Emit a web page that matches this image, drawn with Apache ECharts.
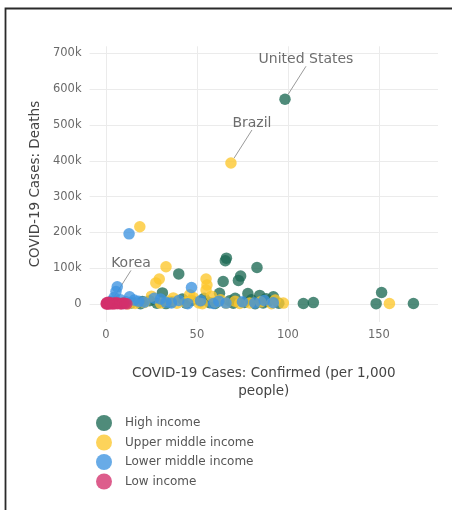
<!DOCTYPE html>
<html>
<head>
<meta charset="utf-8">
<script src="https://cdn.jsdelivr.net/npm/echarts@6/dist/echarts.min.js"></script>
<style>
html,body{margin:0;padding:0;background:#fff;}
#chart{width:452px;height:510px;}
</style>
</head>
<body>
<div id="chart"></div>
<script>
// ---- Data (x = confirmed cases per 1,000 people, y = deaths) ----
const seriesNames = ['High income', 'Upper middle income', 'Lower middle income', 'Low income'];
const seriesColors = ['#1d6a54', '#fcc62c', '#3d94e0', '#d4306c'];

const highIncome = [
  [98.4, 572000], [66.2, 128000], [65.6, 121000], [83.0, 102000], [40.0, 84000],
  [74.0, 78000], [72.8, 66000], [64.4, 63000], [31.0, 31000], [62.4, 30000],
  [78.0, 29000], [84.5, 24000], [92.0, 20000], [151.5, 32000], [148.5, 1000],
  [169.0, 1500], [108.5, 1500], [114.0, 4000], [57.0, 3500], [76.0, 4500],
  [86.4, 3000], [2.2, 1700], [14.0, 3000], [19.0, 1000], [24.0, 9000],
  [28.0, 2000], [36.0, 6000], [44.0, 2500], [47.0, 10000], [52.0, 7000],
  [60.0, 1500], [68.0, 9000], [70.0, 2000], [80.0, 12000], [82.0, 1000],
  [89.0, 8000], [95.0, 2000], [42.0, 14000], [54.0, 16000], [71.0, 16000],
  [88.0, 15000], [20.0, 7000], [33.0, 1200]
];
const upperMiddleIncome = [
  [68.7, 394000], [18.6, 216000], [33.0, 104000], [29.3, 70000], [27.4, 59000],
  [55.0, 70000], [55.5, 53000], [55.0, 39000], [155.8, 1500], [97.5, 2500],
  [71.0, 8000], [73.5, 1500], [51.0, 3000], [25.0, 22000], [35.0, 8000],
  [39.0, 2000], [44.0, 5000], [48.0, 18000], [58.0, 22000], [60.0, 5000],
  [63.0, 12000], [66.0, 2000], [79.0, 3000], [85.0, 6000], [91.0, 1000],
  [93.0, 11000], [16.0, 1500], [21.0, 4000], [30.0, 2500], [12.0, 500],
  [8.0, 2000], [37.0, 17000], [46.0, 26000], [53.0, 1000]
];
const lowerMiddleIncome = [
  [12.7, 196000], [6.2, 48000], [5.5, 35000], [47.0, 46000], [11.0, 6000],
  [15.5, 11000], [21.0, 5000], [26.5, 16000], [59.0, 1500], [81.8, 3000],
  [92.0, 3500], [4.5, 18000], [8.0, 12000], [3.0, 8000], [33.0, 5000],
  [40.0, 10000], [45.0, 1000], [66.0, 2500], [30.0, 14000], [2.0, 2500],
  [18.0, 8000], [52.0, 9000], [75.0, 6000], [36.0, 3000], [9.5, 1500],
  [13.0, 20000], [87.0, 10000], [62.0, 8000]
];
const lowIncome = [
  [0.1, 200], [0.3, 1500], [0.6, 600], [0.9, 2500], [1.2, 100], [1.6, 1200],
  [2.0, 3500], [2.4, 400], [2.9, 1800], [3.3, 800], [3.8, 2200], [4.3, 300],
  [4.9, 1500], [5.5, 4000], [6.2, 700], [7.0, 2000], [7.8, 1000], [8.6, 300],
  [9.5, 2500], [10.5, 1200], [11.5, 500], [1.4, 5000], [0.5, 4000]
];
// annotations: [series index, point index, label]
const annotations = [[0, 0, 'United States'], [1, 0, 'Brazil'], [0, 21, 'Korea']];

const xTicks = [0, 50, 100, 150];
const yTicks = [0, 100000, 200000, 300000, 400000, 500000, 600000, 700000];
const xTitle = 'COVID-19 Cases: Confirmed (per 1,000\npeople)';
const yTitle = 'COVID-19 Cases: Deaths';

// ---- Chart ----
const FONT = '"DejaVu Sans", Verdana, sans-serif';
const allData = [highIncome, upperMiddleIncome, lowerMiddleIncome, lowIncome];

const chart = echarts.init(document.getElementById('chart'), null, {renderer: 'canvas'});

const series = seriesNames.map((name, si) => {
  const data = allData[si].map((p, pi) => {
    const ann = annotations.find(a => a[0] === si && a[1] === pi);
    if (ann) {
      return {name: ann[2], value: p, label: {show: true}};
    }
    return {value: p};
  });
  return {
    type: 'scatter',
    name: name,
    data: data,
    symbolSize: 11.5,
    itemStyle: {color: seriesColors[si], opacity: 0.78},
    label: {
      show: false, position: 'inside', formatter: '{b}',
      color: '#444', fontSize: 14, fontFamily: FONT, textBorderWidth: 0
    },
    labelLayout: {dx: 21, dy: -40},
    labelLine: {show: true, lineStyle: {color: '#9a9a9a', width: 1}},
    emphasis: {disabled: true}
  };
});

chart.setOption({
  animation: false,
  backgroundColor: '#fff',
  textStyle: {fontFamily: FONT},
  graphic: [{
    type: 'rect', left: 3, top: 6, silent: true,
    shape: {width: 480, height: 540},
    style: {fill: 'none', stroke: '#2a2a2a', lineWidth: 1.8}
  }],
  grid: {left: 89.6, right: 14, top: 46.3, bottom: 188.1, containLabel: false},
  xAxis: {
    type: 'value', min: -9, max: 182.5,
    splitNumber: 4, minInterval: 50, maxInterval: 50,
    axisLine: {show: false}, axisTick: {show: false},
    splitLine: {show: true, showMinLine: false, showMaxLine: false, lineStyle: {color: '#ebebeb', width: 1}},
    axisLabel: {
      margin: 7, fontSize: 11.5, color: '#6a6a6a', fontFamily: FONT,
      formatter: v => (xTicks.indexOf(v) >= 0 ? String(v) : '')
    },
    name: xTitle, nameLocation: 'middle', nameGap: 43,
    nameTextStyle: {fontSize: 13.5, color: '#444', lineHeight: 18, fontFamily: FONT}
  },
  yAxis: {
    type: 'value', min: -50000, max: 720000,
    splitNumber: 7, minInterval: 100000, maxInterval: 100000,
    axisLine: {show: false}, axisTick: {show: false},
    splitLine: {show: true, showMinLine: false, showMaxLine: false, lineStyle: {color: '#ebebeb', width: 1}},
    axisLabel: {
      margin: 8, fontSize: 11.5, color: '#6a6a6a', fontFamily: FONT,
      formatter: v => (yTicks.indexOf(v) >= 0 ? (v === 0 ? '0' : (v / 1000) + 'k') : '')
    },
    name: yTitle, nameLocation: 'middle', nameGap: 38, nameRotate: 90,
    nameTextStyle: {fontSize: 13.5, color: '#444', fontFamily: FONT}
  },
  legend: {
    data: seriesNames,
    orient: 'vertical', left: 91, top: 410,
    itemWidth: 16, itemHeight: 16, itemGap: 3.5,
    icon: 'circle',
    itemStyle: {opacity: 0.78},
    textStyle: {fontSize: 12, color: '#555', fontFamily: FONT, padding: [0, 0, 0, 8]},
    selectedMode: false
  },
  tooltip: {show: false},
  series: series
});
</script>
</body>
</html>
